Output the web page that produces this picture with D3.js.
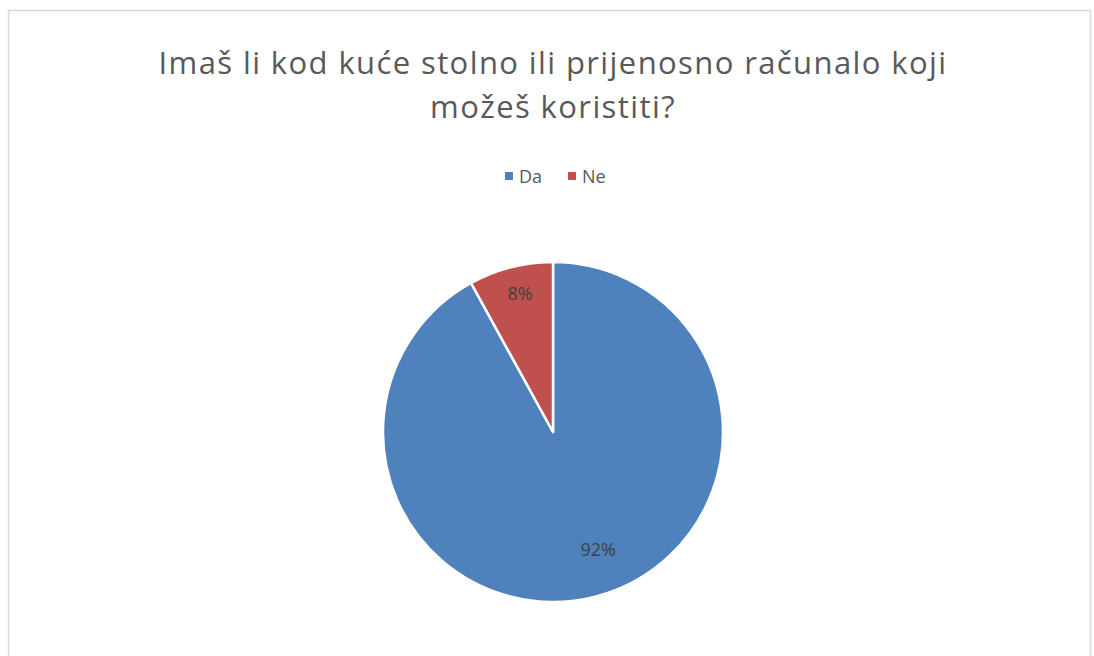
<!DOCTYPE html>
<html>
<head>
<meta charset="utf-8">
<script src="https://cdn.jsdelivr.net/npm/d3@7"></script>
<style>
  html, body { margin: 0; padding: 0; background: #fff; }
  svg { display: block; }
</style>
</head>
<body>
<svg id="chart" width="1094" height="656"></svg>
<script>
const title = ["Imaš li kod kuće stolno ili prijenosno računalo koji", "možeš koristiti?"];
const categories = ["Da", "Ne"];
const values = [92, 8];
const colors = ["#4F81BD", "#C0504D"];

const svg = d3.select("#chart");
const font = "'Open Sans', 'Noto Sans', sans-serif";

// frame
svg.append("rect").attr("x", 8.5).attr("y", 10.5).attr("width", 1082).attr("height", 660)
  .attr("fill", "#fff").attr("stroke", "#d9d9d9").attr("stroke-width", 1.5);

// title
svg.append("g").selectAll("text").data(title).join("text")
  .attr("x", 553).attr("y", (d, i) => 74 + i * 44)
  .attr("text-anchor", "middle")
  .attr("font-family", font).attr("font-size", 31)
  .attr("letter-spacing", 1.4)
  .attr("fill", "#595959")
  .text(d => d);

// legend
const legend = svg.append("g").attr("transform", "translate(505,176)");
const legX = [0, 63];
const li = legend.selectAll("g").data(categories).join("g")
  .attr("transform", (d, i) => `translate(${legX[i]},0)`);
li.append("rect").attr("x", 0).attr("y", -4).attr("width", 8).attr("height", 8)
  .attr("fill", (d, i) => colors[i]);
li.append("text").attr("x", 14).attr("y", 6.5)
  .attr("font-family", font).attr("font-size", 18).attr("fill", "#595959")
  .text(d => d);

// pie
const cx = 553, cy = 432, r = 170;
const pie = d3.pie().sort(null).value(d => d)(values);
const arc = d3.arc().innerRadius(0).outerRadius(r);
// best-fit label placement: radius and small angular shift per slice
const labelPlace = [{ rad: 126, shift: -0.115 }, { rad: 142, shift: 0.017 }];
const g = svg.append("g").attr("transform", `translate(${cx},${cy})`);
g.selectAll("path").data(pie).join("path")
  .attr("d", arc)
  .attr("fill", (d, i) => colors[i])
  .attr("stroke", "#fff").attr("stroke-width", 2.5).attr("stroke-linejoin", "round");
g.selectAll("text").data(pie).join("text")
  .attr("transform", (d, i) => {
    const a = (d.startAngle + d.endAngle) / 2 + labelPlace[i].shift;
    const R = labelPlace[i].rad;
    return `translate(${R * Math.sin(a)},${-R * Math.cos(a)})`;
  })
  .attr("text-anchor", "middle").attr("dy", "0.35em")
  .attr("font-family", font).attr("font-size", 18).attr("fill", "#404040")
  .text(d => d.data + "%");
</script>
</body>
</html>
